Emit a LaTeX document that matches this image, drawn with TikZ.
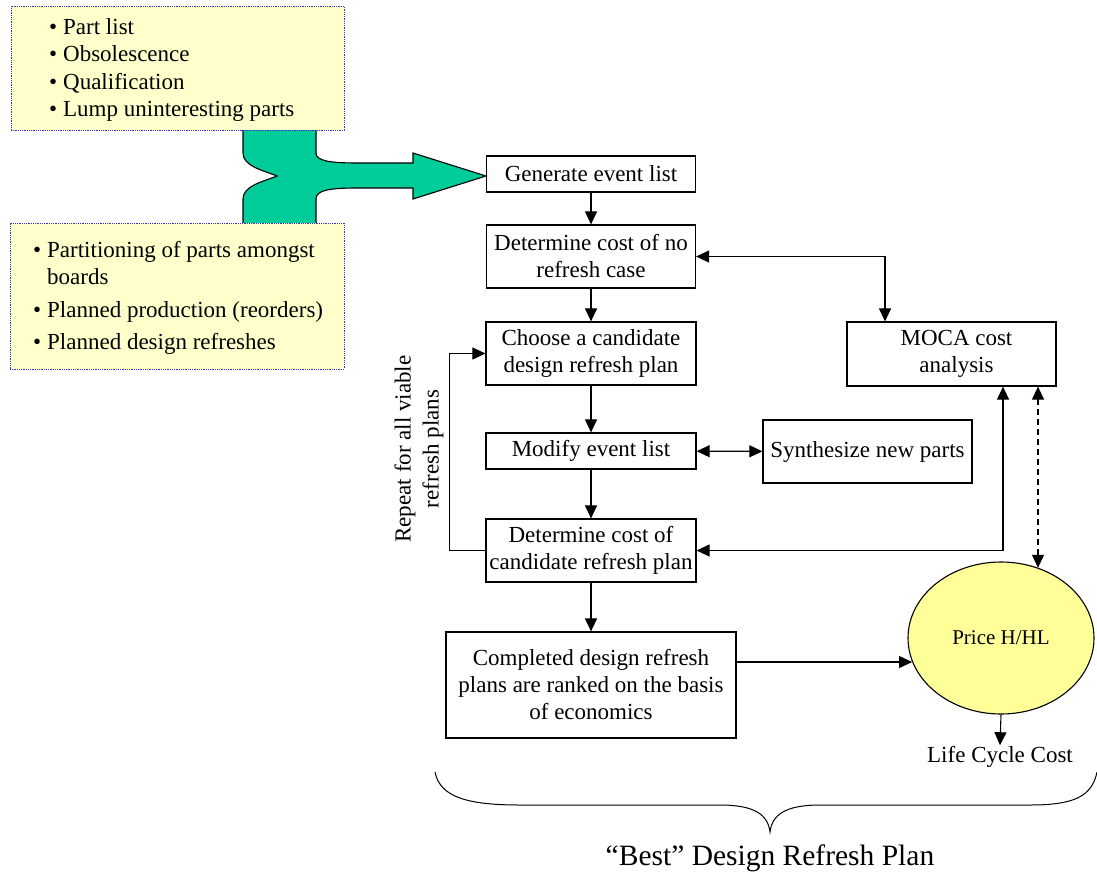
\documentclass[tikz,border=0pt]{standalone}
\usepackage{fontspec}
\setmainfont{Liberation Serif}
\usetikzlibrary{arrows.meta,shapes.geometric}
\definecolor{noteyellow}{HTML}{FFFFCC}
\definecolor{notedot}{HTML}{3333CC}
\definecolor{flowgreen}{HTML}{00CC99}
\definecolor{priceyellow}{HTML}{FFFF99}
\tikzset{
 flowbox/.style={draw, line width=1.2pt, align=center, inner sep=0pt, font=\fontsize{23}{27}\selectfont},
 notebox/.style={draw=notedot, densely dotted, line width=0.8pt, fill=noteyellow, inner sep=0pt},
 bullettext/.style={anchor=base west, inner sep=0pt, font=\fontsize{23}{27}\selectfont},
 plaintext/.style={inner sep=1pt, align=center},
 conn/.style={line width=1.1pt, -{Triangle[length=13pt,width=12pt]}},
 biconn/.style={line width=1.1pt, {Triangle[length=13pt,width=12pt]}-{Triangle[length=13pt,width=12pt]}},
}
\begin{document}
\begin{tikzpicture}[x=1pt,y=-1pt]
\useasboundingbox (0,0) rectangle (1097,875);

% green merging arrow
\draw[fill=flowgreen, line width=1.1pt]
 (243,128) -- (243,153) .. controls (243,166) and (262,170) .. (277,176)
 .. controls (262,182) and (243,186) .. (243,199) -- (243,225) -- (316,225) -- (316,199)
 .. controls (316,190) and (330,188) .. (358,188) -- (413,188) -- (413,199) -- (486,176)
 -- (413,153) -- (413,163) -- (358,163) .. controls (330,163) and (316,161) .. (316,153)
 -- (316,128) -- cycle;

% note boxes
\node[notebox, minimum width=333pt, minimum height=124pt] (notesA) at (177.5,68) {};
\node[notebox, minimum width=334pt, minimum height=146pt] (notesB) at (177,296) {};
\node[bullettext] (a1) at (63,35) {\llap{•\hspace{6pt}}Part list};
\node[bullettext] (a2) at (63,62) {\llap{•\hspace{6pt}}Obsolescence};
\node[bullettext] (a3) at (63,89) {\llap{•\hspace{6pt}}Qualification};
\node[bullettext] (a4) at (63,116) {\llap{•\hspace{6pt}}Lump uninteresting parts};
\node[bullettext] (b1) at (47,257) {\llap{•\hspace{6pt}}Partitioning of parts amongst};
\node[bullettext] (b1b) at (47,284) {boards};
\node[bullettext] (b2) at (47,317) {\llap{•\hspace{6pt}}Planned production (reorders)};
\node[bullettext] (b3) at (47,349) {\llap{•\hspace{6pt}}Planned design refreshes};

% flow boxes
\node[flowbox, minimum width=209pt, minimum height=36pt] (gen) at (591,174) {Generate event list};
\node[flowbox, minimum width=209pt, minimum height=63pt] (detno) at (591,256.5) {Determine cost of no\\refresh case};
\node[flowbox, minimum width=210pt, minimum height=63pt] (choose) at (591,353.5) {Choose a candidate\\design refresh plan};
\node[flowbox, minimum width=210pt, minimum height=36pt] (modify) at (591,451) {Modify event list};
\node[flowbox, minimum width=210pt, minimum height=63pt] (cand) at (591,550.5) {Determine cost of\\candidate refresh plan};
\node[flowbox, minimum width=290pt, minimum height=106pt] (comp) at (591,685) {Completed design refresh\\plans are ranked on the basis\\of economics};
\node[flowbox, minimum width=209pt, minimum height=64pt] (moca) at (951.5,354) {\hspace{10pt}MOCA cost\\\hspace{10pt}analysis};
\node[flowbox, minimum width=209pt, minimum height=63pt] (synth) at (867.5,451.5) {Synthesize new parts};
\node[draw, ellipse, line width=1.1pt, fill=priceyellow, minimum width=186pt, minimum height=152pt, inner sep=0pt, font=\fontsize{21}{25}\selectfont] (price) at (1001,638) {Price H/HL};
\node[plaintext, font=\fontsize{23}{27}\selectfont] (life) at (1000,757) {Life Cycle Cost};
\node[plaintext, rotate=90, font=\fontsize{23}{28}\selectfont] (repeat) at (419,449) {Repeat for all viable\\refresh plans};
\node[plaintext, font=\fontsize{29.5}{34}\selectfont] (best) at (770,858) {“Best” Design Refresh Plan};

% connectors
\draw[conn] (gen) -- (detno);
\draw[conn] (detno) -- (choose);
\draw[conn] (choose) -- (modify);
\draw[conn] (modify) -- (cand);
\draw[conn] (cand) -- (comp);
\draw[conn] (cand.west) -- ++(-36,0) |- (choose.west);
\draw[biconn] (detno.east) -| ([xshift=-66.5pt]moca.north);
\draw[biconn] (modify) -- (synth);
\draw[biconn] ([xshift=51.5pt]moca.south) |- (cand.east);
\draw[biconn, dash pattern=on 6pt off 4pt] ([xshift=86.5pt]moca.south) -- ([xshift=86.5pt]moca.south |- price.62);
\draw[conn] ([yshift=23pt]comp.east) -- ([yshift=23pt]comp.east -| price.195);
\draw[conn] (price.south) -- (life.north);

% brace
\draw[line width=1pt] (435,772) .. controls (440,798) and (470,805) .. (520,805) -- (720,805)
 .. controls (755,805) and (768,815) .. (770,832) .. controls (772,815) and (785,805) .. (820,805)
 -- (1030,805) .. controls (1075,805) and (1092,796) .. (1097,772);
\end{tikzpicture}
\end{document}
